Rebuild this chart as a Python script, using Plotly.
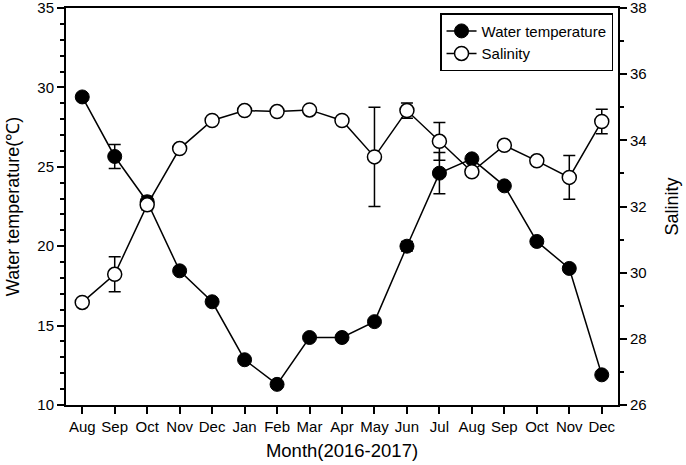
import plotly.graph_objects as go

# dados
meses = ['Aug', 'Sep', 'Oct', 'Nov', 'Dec', 'Jan', 'Feb', 'Mar', 'Apr',
         'May', 'Jun', 'Jul', 'Aug', 'Sep', 'Oct', 'Nov', 'Dec']
temperatura = [29.4, 25.65, 22.8, 18.45, 16.5, 12.85, 11.3, 14.25, 14.25,
               15.25, 20.0, 24.6, 25.5, 23.8, 20.3, 18.6, 11.9]
erro_temperatura = [0.2, 0.75, 0.35, 0.0, 0.0, 0.0, 0.0, 0.0, 0.0,
                    0.0, 0.3, 1.3, 0.0, 0.0, 0.0, 0.2, 0.0]
salinidade = [29.1, 29.95, 32.05, 33.75, 34.6, 34.9, 34.87, 34.92, 34.6,
              33.5, 34.9, 33.97, 33.05, 33.85, 33.38, 32.88, 34.57]
erro_salinidade = [0.0, 0.53, 0.15, 0.0, 0.0, 0.0, 0.0, 0.0, 0.0,
                   1.5, 0.23, 0.57, 0.0, 0.0, 0.0, 0.66, 0.37]

x = list(range(len(meses)))
fonte = "Liberation Sans, Arial, sans-serif"

fig = go.Figure()

fig.add_trace(go.Scatter(
    x=x, y=temperatura,
    mode='lines+markers',
    name='Water temperature',
    line=dict(color='black', width=1.5),
    marker=dict(color='black', size=14, line=dict(color='black', width=1)),
    error_y=dict(type='data', array=erro_temperatura, color='black',
                 thickness=1.5, width=6),
    yaxis='y'
))

fig.add_trace(go.Scatter(
    x=x, y=salinidade,
    mode='lines+markers',
    name='Salinity',
    line=dict(color='black', width=1.5),
    marker=dict(color='white', size=14, line=dict(color='black', width=1.5)),
    error_y=dict(type='data', array=erro_salinidade, color='black',
                 thickness=1.5, width=6),
    yaxis='y2'
))

fig.update_layout(
    width=686, height=465,
    margin=dict(l=66, r=68, t=8, b=60),
    paper_bgcolor='white',
    plot_bgcolor='white',
    font=dict(family=fonte, size=15, color='black'),
    xaxis=dict(
        range=[-0.5, 16.5],
        tickvals=x, ticktext=meses,
        tickfont=dict(size=15),
        showline=True, linecolor='black', linewidth=2, mirror=True,
        ticks='outside', ticklen=7, tickwidth=1.5, tickcolor='black',
        showgrid=False, zeroline=False, automargin=False,
        title=dict(text='Month(2016-2017)', font=dict(size=18.5), standoff=10),
    ),
    yaxis=dict(
        range=[10, 35], dtick=5,
        tickfont=dict(size=15), ticklabeloverflow='allow',
        showline=True, linecolor='black', linewidth=2,
        ticks='outside', ticklen=7, tickwidth=1.5, tickcolor='black',
        minor=dict(dtick=1, ticks='outside', ticklen=4, tickcolor='black'),
        showgrid=False, zeroline=False, automargin=False,
        title=dict(text='Water temperature(℃)', font=dict(size=18), standoff=13),
    ),
    yaxis2=dict(
        range=[26, 38], dtick=2,
        tickfont=dict(size=15), ticklabeloverflow='allow',
        overlaying='y', side='right',
        showline=True, linecolor='black', linewidth=2,
        ticks='outside', ticklen=7, tickwidth=1.5, tickcolor='black',
        minor=dict(dtick=1, ticks='outside', ticklen=4, tickcolor='black'),
        showgrid=False, zeroline=False, automargin=False,
        title=dict(text='Salinity', font=dict(size=18), standoff=20),
    ),
    legend=dict(
        x=0.991, y=0.987, xanchor='right', yanchor='top',
        bgcolor='white', bordercolor='black', borderwidth=1.5,
        font=dict(size=15), tracegroupgap=0,
    ),
    showlegend=True,
)

# tira a margem padrão do body para a figura ocupar a janela inteira
fig.write_html("out.html", config={'displayModeBar': False},
               post_script="document.body.style.margin='0';")
